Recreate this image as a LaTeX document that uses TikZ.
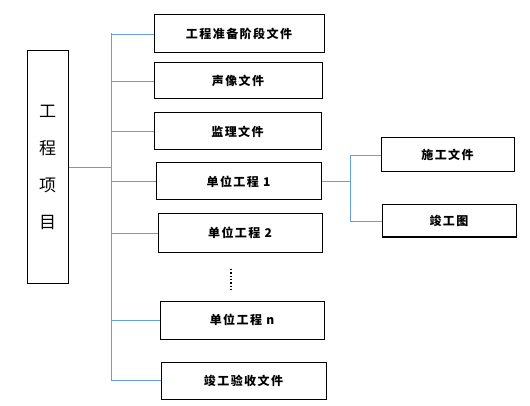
\documentclass[tikz,border=0pt]{standalone}
\usepackage{fontspec}
\setmainfont{Noto Sans CJK SC}
\newfontfamily\cjk[LetterSpace=12]{Noto Sans CJK SC}
\definecolor{linkblue}{RGB}{100,160,220}

\begin{document}
\begin{tikzpicture}[x=1pt, y=-1pt,
	box/.style={draw, line width=1pt, inner sep=0pt, font=\cjk\bfseries\fontsize{12}{14}\selectfont},
	link/.style={draw=linkblue, line width=0.9pt}]
	\useasboundingbox (0,0) rectangle (530,406);
	
	% main item
	\node[box, minimum width=41, minimum height=232, align=center, font=\fontsize{17}{37}\selectfont] (proj) at (47.5,167) {工\\程\\项\\目};
	
	% file boxes
	\node[box, minimum width=170, minimum height=38] (prep) at (239,34) {工程准备阶段文件};
	\node[box, minimum width=168, minimum height=36] (media) at (238,81) {声像文件};
	\node[box, minimum width=167, minimum height=37] (super) at (237.5,131.5) {监理文件};
	\node[box, minimum width=165, minimum height=37] (unit1) at (238.5,181.5) {单位工程 1};
	\node[box, minimum width=164, minimum height=38] (unit2) at (240,233) {单位工程 2};
	\node[box, minimum width=164, minimum height=38] (unitn) at (242,320) {单位工程 n};
	\node[box, minimum width=165, minimum height=37] (accept) at (243.5,380.5) {竣工验收文件};
	\node[box, minimum width=133, minimum height=34] (constr) at (447.5,155) {施工文件};
	\node[box, minimum width=134, minimum height=32] (asbuilt) at (449,221) {竣工图};
	
	\draw[dotted, line width=1.3pt] (231,269) -- (231,290);
	
	% trunk
	\coordinate (trunk) at (111,33);
	\coordinate (fork) at (350,155);
	\draw[link] (trunk) -- (trunk |- accept.west);
	\draw[link] (proj.east) -- (trunk |- proj.east);
	\foreach \n in {prep, media, super, unit1, unit2, unitn, accept}
	{
		\draw[link] (trunk |- \n.west) -- (\n.west);
	}
	
	% unit 1 branch
	\draw[link] (unit1.east) -- (fork |- unit1.east);
	\draw[link] (fork |- constr.west) -- (fork |- asbuilt.west);
	\draw[link] (fork |- constr.west) -- (constr.west);
	\draw[link] (fork |- asbuilt.west) -- (asbuilt.west);
\end{tikzpicture}
\end{document}
